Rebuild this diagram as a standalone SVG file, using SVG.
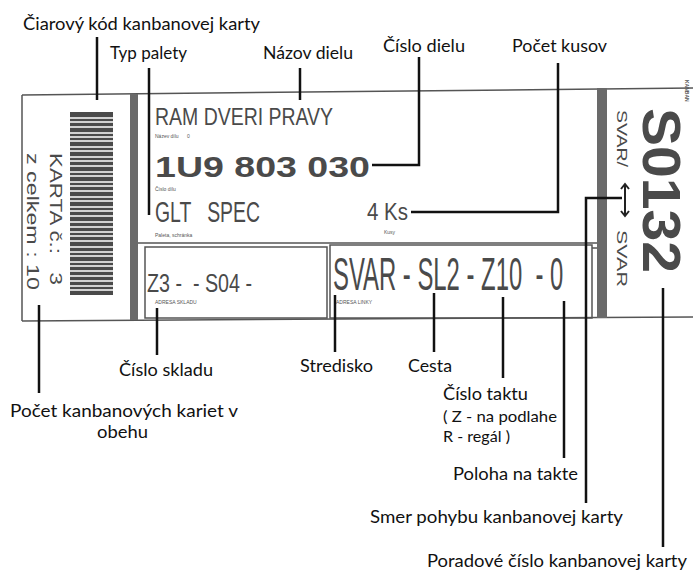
<svg xmlns="http://www.w3.org/2000/svg" width="693" height="571" viewBox="0 0 693 571">
<style>
.lbl{font-family:Lato,"Liberation Sans",sans-serif;font-size:18px;fill:#111}
.lbl2{font-family:Lato,"Liberation Sans",sans-serif;font-size:16px;fill:#111}
.ct{font-family:"Liberation Sans",Arial,sans-serif;fill:#4a4a4a;white-space:pre}
.tiny{font-family:"Liberation Sans",Arial,sans-serif;font-size:5px;fill:#555;white-space:pre}
.edge{stroke:#555;stroke-width:1.5;fill:none}
.con{stroke:#111;stroke-width:2.5;fill:none}
</style>
<rect width="693" height="571" fill="#fff"/>
<g id="card">
  <polyline class="edge" points="22,95 693,88"/>
  <polyline class="edge" points="22,321 693,317"/>
  <line class="edge" x1="22" y1="95" x2="22" y2="321"/>
  <rect x="130" y="94" width="8" height="226" fill="#6a6a6a"/>
  <rect x="597" y="88" width="10" height="230" fill="#6a6a6a"/>
  <line class="edge" x1="138" y1="243" x2="597" y2="243"/>
  <rect class="edge" x="145" y="247" width="182" height="71"/>
  <rect class="edge" x="330" y="245" width="262" height="73"/>
  <line class="edge" x1="592" y1="248" x2="597" y2="248"/>
</g>
<g id="barcode">
  <rect x="70" y="112" width="43" height="183" fill="#4a4a4a"/>
  <g stroke="#fff" stroke-width="1.4">
    <line x1="70" y1="118" x2="113" y2="118"/><line x1="70" y1="122" x2="113" y2="122"/>
    <line x1="70" y1="127" x2="113" y2="127"/><line x1="70" y1="133" x2="113" y2="133"/>
    <line x1="70" y1="137" x2="113" y2="137"/><line x1="70" y1="141" x2="113" y2="141"/>
    <line x1="70" y1="147" x2="113" y2="147"/><line x1="70" y1="151" x2="113" y2="151"/>
    <line x1="70" y1="157" x2="113" y2="157"/><line x1="70" y1="161" x2="113" y2="161"/>
    <line x1="70" y1="166" x2="113" y2="166"/><line x1="70" y1="172" x2="113" y2="172"/>
    <line x1="70" y1="176" x2="113" y2="176"/><line x1="70" y1="182" x2="113" y2="182"/>
    <line x1="70" y1="186" x2="113" y2="186"/><line x1="70" y1="191" x2="113" y2="191"/>
    <line x1="70" y1="197" x2="113" y2="197"/><line x1="70" y1="201" x2="113" y2="201"/>
    <line x1="70" y1="207" x2="113" y2="207"/><line x1="70" y1="211" x2="113" y2="211"/>
    <line x1="70" y1="216" x2="113" y2="216"/><line x1="70" y1="222" x2="113" y2="222"/>
    <line x1="70" y1="227" x2="113" y2="227"/><line x1="70" y1="232" x2="113" y2="232"/>
    <line x1="70" y1="236" x2="113" y2="236"/><line x1="70" y1="241" x2="113" y2="241"/>
    <line x1="70" y1="247" x2="113" y2="247"/><line x1="70" y1="252" x2="113" y2="252"/>
    <line x1="70" y1="256" x2="113" y2="256"/><line x1="70" y1="262" x2="113" y2="262"/>
    <line x1="70" y1="266" x2="113" y2="266"/><line x1="70" y1="271" x2="113" y2="271"/>
    <line x1="70" y1="276" x2="113" y2="276"/><line x1="70" y1="281" x2="113" y2="281"/>
    <line x1="70" y1="286" x2="113" y2="286"/><line x1="70" y1="290" x2="113" y2="290"/>
  </g>
</g>
<g id="card-text">
  <text class="ct" font-size="17" transform="translate(50,153) rotate(90)" textLength="132" lengthAdjust="spacingAndGlyphs">KARTA č.:   3</text>
  <text class="ct" font-size="16" transform="translate(27,153) rotate(90)" textLength="137" lengthAdjust="spacingAndGlyphs">z celkem : 10</text>
  <text class="ct" font-size="24" x="155" y="125" textLength="178" lengthAdjust="spacingAndGlyphs">RAM DVERI PRAVY</text>
  <text class="tiny" x="155" y="138">Název dílu      0</text>
  <text class="ct" font-size="30" font-weight="bold" x="155" y="177" textLength="215" lengthAdjust="spacingAndGlyphs">1U9 803 030</text>
  <text class="tiny" x="155" y="191">Číslo dílu</text>
  <text class="ct" font-size="29" x="155" y="222" textLength="105" lengthAdjust="spacingAndGlyphs">GLT   SPEC</text>
  <text class="tiny" x="155" y="237">Paleta, schránka</text>
  <text class="ct" font-size="23" x="367" y="220" textLength="41" lengthAdjust="spacingAndGlyphs">4 Ks</text>
  <text class="tiny" x="384" y="234">Kusy</text>
  <text class="ct" font-size="26" x="147" y="292" textLength="105" lengthAdjust="spacingAndGlyphs">Z3 -  - S04 -</text>
  <text class="tiny" x="155" y="304">ADRESA SKLADU</text>
  <text class="ct" font-size="46" transform="translate(333,290) scale(0.519,1)">SVAR - SL2 - Z10  - 0</text>
  <text class="tiny" x="336" y="304">ADRESA LINKY</text>
  <text class="ct" font-size="15" transform="translate(617,110) rotate(90)" textLength="57" lengthAdjust="spacingAndGlyphs">SVAR/</text>
  <text class="ct" font-size="15" transform="translate(617,230) rotate(90)" textLength="57" lengthAdjust="spacingAndGlyphs">SVAR</text>
  <text class="ct" font-size="54" font-weight="bold" transform="translate(643,108) rotate(90)" textLength="165" lengthAdjust="spacingAndGlyphs">S0132</text>
  <text class="tiny" font-size="6" font-weight="bold" transform="translate(685,80) rotate(90)">KANBAN</text>
  <path d="M625,185 V215 M621,189 L625,184 L629,189 M621,211 L625,216 L629,211" stroke="#222" stroke-width="2" fill="none"/>
</g>
<g id="connectors">
  <line class="con" x1="97" y1="37" x2="97" y2="100"/>
  <line class="con" x1="149" y1="68" x2="149" y2="215"/>
  <line class="con" x1="300" y1="68" x2="300" y2="100"/>
  <polyline class="con" points="419,57 419,165 372,165"/>
  <polyline class="con" points="558,63 558,212 411,212"/>
  <polyline class="con" points="622,198 586,198 586,503"/>
  <line class="con" x1="663" y1="288" x2="663" y2="547"/>
  <line class="con" x1="564" y1="301" x2="564" y2="458"/>
  <line class="con" x1="503" y1="297" x2="503" y2="378"/>
  <line class="con" x1="434" y1="293" x2="434" y2="352"/>
  <line class="con" x1="335" y1="295" x2="335" y2="352"/>
  <line class="con" x1="157" y1="308" x2="157" y2="355"/>
  <line class="con" x1="39" y1="305" x2="39" y2="393"/>
</g>
<g id="labels">
  <text class="lbl" x="23" y="30" textLength="237" lengthAdjust="spacingAndGlyphs">Čiarový kód kanbanovej karty</text>
  <text class="lbl" x="110" y="59" textLength="77" lengthAdjust="spacingAndGlyphs">Typ palety</text>
  <text class="lbl" x="263" y="59" textLength="90" lengthAdjust="spacingAndGlyphs">Názov dielu</text>
  <text class="lbl" x="383" y="52" textLength="82" lengthAdjust="spacingAndGlyphs">Číslo dielu</text>
  <text class="lbl" x="512" y="52" textLength="95" lengthAdjust="spacingAndGlyphs">Počet kusov</text>
  <text class="lbl" x="119" y="376" textLength="94" lengthAdjust="spacingAndGlyphs">Číslo skladu</text>
  <text class="lbl" x="300" y="372" textLength="73" lengthAdjust="spacingAndGlyphs">Stredisko</text>
  <text class="lbl" x="408" y="372" textLength="44" lengthAdjust="spacingAndGlyphs">Cesta</text>
  <text class="lbl" x="443" y="400" textLength="85" lengthAdjust="spacingAndGlyphs">Číslo taktu</text>
  <text class="lbl2" x="443" y="422" textLength="114" lengthAdjust="spacingAndGlyphs">( Z - na podlahe</text>
  <text class="lbl2" x="443" y="442" textLength="67" lengthAdjust="spacingAndGlyphs">R - regál )</text>
  <text class="lbl" x="453" y="480" textLength="125" lengthAdjust="spacingAndGlyphs">Poloha na takte</text>
  <text class="lbl" x="370" y="523" textLength="253" lengthAdjust="spacingAndGlyphs">Smer pohybu kanbanovej karty</text>
  <text class="lbl" x="427" y="567" textLength="260" lengthAdjust="spacingAndGlyphs">Poradové číslo kanbanovej karty</text>
  <text class="lbl" x="10" y="417" textLength="228" lengthAdjust="spacingAndGlyphs">Počet kanbanových kariet v</text>
  <text class="lbl" x="97" y="438" textLength="51" lengthAdjust="spacingAndGlyphs">obehu</text>
</g>
</svg>
